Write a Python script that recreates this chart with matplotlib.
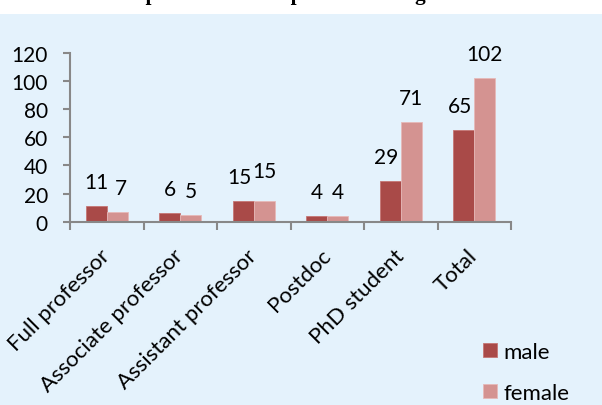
import matplotlib
matplotlib.use("Agg")
import matplotlib.pyplot as plt
from matplotlib.patches import Rectangle
import numpy as np

categories = ["Full professor", "Associate professor", "Assistant professor",
              "Postdoc", "PhD student", "Total"]
male = [11, 6, 15, 4, 29, 65]
female = [7, 5, 15, 4, 71, 102]
series_names = ["male", "female"]
title = "Composition of staff per rank and gender"

male_col = "#A94A48"
female_col = "#D49391"
axis_col = "#888888"

plt.rcParams["font.family"] = ["Lato", "DejaVu Sans"]
fs_num = 15
fs_txt = 16

fig = plt.figure(figsize=(6.02, 4.06), dpi=100)
fig.patches.append(Rectangle((0, 0), 1, 391 / 406, transform=fig.transFigure,
                             facecolor="#E4F2FC", edgecolor="none", zorder=-10))

# title is cut off by the top edge, only the descenders show
fig.text(102 / 602, 1.0, title, ha="left", va="baseline",
         family="Liberation Serif", weight="bold", fontsize=15.3)

ax = fig.add_axes([70 / 602, 183.3 / 406, 441 / 602, 168.7 / 406])
ax.set_facecolor("none")

x = np.arange(len(categories))
w = 0.286
ax.bar(x - w / 2, male, w, color=male_col, edgecolor="#C57674",
       linewidth=0.6, label=series_names[0])
ax.bar(x + w / 2, female, w, color=female_col, edgecolor="#E6B9B8",
       linewidth=0.6, label=series_names[1])

# value labels, nudged a little apart like the original
for i in range(len(categories)):
    dx_m = -3 if male[i] >= 15 else 0
    dy_f = 4 if female[i] == male[i] and female[i] >= 10 else 0
    dx_f = 3 if female[i] < 10 and male[i] >= 10 else 0
    ax.annotate(str(male[i]), (x[i] - w / 2, male[i]),
                xytext=(dx_m, 10), textcoords="offset points",
                ha="center", va="bottom", fontsize=fs_num)
    ax.annotate(str(female[i]), (x[i] + w / 2, female[i]),
                xytext=(dx_f, 10 + dy_f), textcoords="offset points",
                ha="center", va="bottom", fontsize=fs_num)

ax.set_xlim(-0.5, len(categories) - 0.5)
ax.set_ylim(0, 120)
ax.set_yticks(range(0, 121, 20))
ax.set_xticks(x)
ax.set_xticklabels(categories, rotation=45, ha="right", va="center",
                   rotation_mode="anchor", fontsize=fs_txt)
ax.set_xticks(np.arange(-0.5, len(categories)), minor=True)

for s in ["top", "right"]:
    ax.spines[s].set_visible(False)
for s in ["left", "bottom"]:
    ax.spines[s].set_color(axis_col)
    ax.spines[s].set_linewidth(1.5)

ax.tick_params(axis="y", direction="out", length=5, width=1.5,
               color=axis_col, labelsize=fs_num, pad=11)
ax.tick_params(axis="x", which="major", length=0, pad=22)
ax.tick_params(axis="x", which="minor", direction="out", length=6,
               width=1.5, color=axis_col)

ax.legend(loc="upper left", bbox_to_anchor=(483 / 602, 63 / 406),
          bbox_transform=fig.transFigure, frameon=False, fontsize=fs_txt,
          handlelength=0.62, handleheight=0.62, handletextpad=0.3,
          labelspacing=0.95, borderpad=0, borderaxespad=0)

fig.savefig("out.png", dpi=100)
